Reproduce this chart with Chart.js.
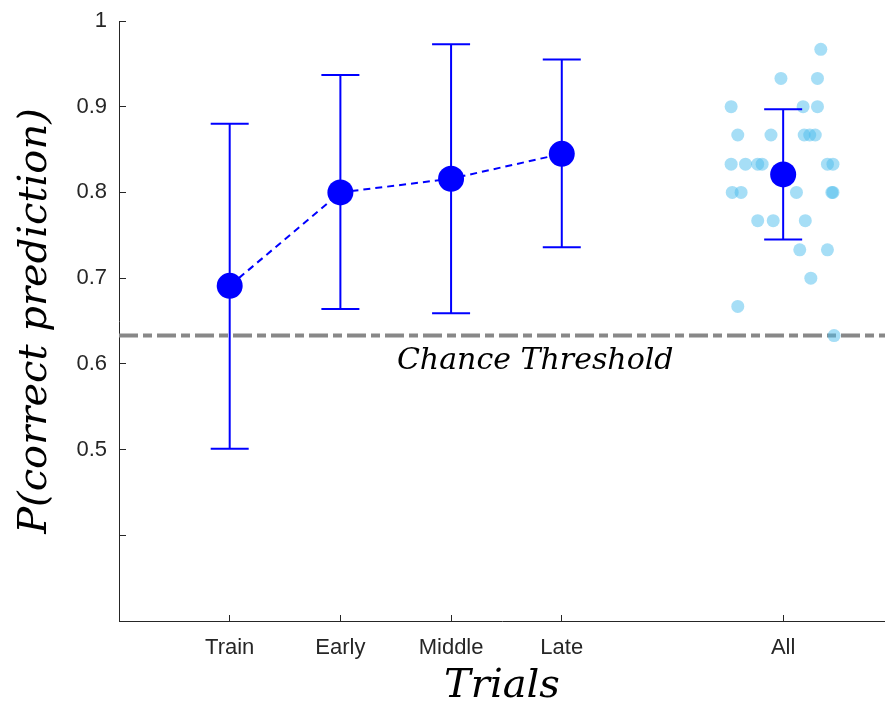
<!DOCTYPE html>
<html>
<head>
<meta charset="utf-8">
<script src="https://cdn.jsdelivr.net/npm/chart.js@4.4.1/dist/chart.umd.min.js"></script>
<style>
  html, body { margin: 0; padding: 0; background: #fff; }
</style>
</head>
<body>
<canvas id="chart" width="885" height="705"></canvas>
<script>
// categories and their positions on the x axis (gap before "All")
const categories = ["Train", "Early", "Middle", "Late", "All"];
const catX = [1, 2, 3, 4, 6];

// mean and error bar limits per category
const means = [0.691, 0.800, 0.816, 0.845, 0.821];
const lower = [0.501, 0.664, 0.659, 0.736, 0.745];
const upper = [0.880, 0.937, 0.973, 0.955, 0.897];

// individual subjects, shown jittered around "All"
const allX = [6.34, 5.98, 6.31, 5.53, 6.18, 6.31, 5.59, 5.89, 6.19, 6.24,
              6.29, 5.53, 5.66, 5.77, 5.81, 6.40, 6.45, 5.54, 5.62, 6.12,
              6.44, 6.45, 5.77, 5.91, 6.20, 6.15, 6.40, 6.25, 5.59, 6.46];
const allY = [0.967, 0.933, 0.933, 0.900, 0.900, 0.900, 0.867, 0.867, 0.867, 0.867,
              0.867, 0.833, 0.833, 0.833, 0.833, 0.833, 0.833, 0.800, 0.800, 0.800,
              0.800, 0.800, 0.767, 0.767, 0.767, 0.733, 0.733, 0.700, 0.667, 0.633];

const chance = 0.633;
const xRange = [0, 6.92];
const yTicks = [0.3, 0.4, 0.5, 0.6, 0.7, 0.8, 0.9, 1.0];
const yTickLabels = ["", "", "0.5", "0.6", "0.7", "0.8", "0.9", "1"];

const BLUE = "#0000ff";
const AXIS = "#262626";

Chart.defaults.font.family = '"Liberation Sans", Arial, sans-serif';

// error bars go on top of the individual points, under the means
const errorBars = {
  id: "errorBars",
  afterDatasetDraw(chart, args) {
    if (args.index !== 1) return;
    const { ctx, scales: { x, y } } = chart;
    ctx.save();
    ctx.strokeStyle = BLUE;
    ctx.lineWidth = 2;
    catX.forEach((cx, i) => {
      const px = x.getPixelForValue(cx);
      const top = y.getPixelForValue(upper[i]);
      const bot = y.getPixelForValue(lower[i]);
      ctx.beginPath();
      ctx.moveTo(px, top); ctx.lineTo(px, bot);
      ctx.moveTo(px - 19, top); ctx.lineTo(px + 19, top);
      ctx.moveTo(px - 19, bot); ctx.lineTo(px + 19, bot);
      ctx.stroke();
    });
    ctx.restore();
  }
};

const chanceLabel = {
  id: "chanceLabel",
  afterDraw(chart) {
    const { ctx, scales: { x, y } } = chart;
    ctx.save();
    ctx.font = 'italic 30px "DejaVu Serif", serif';
    ctx.fillStyle = "#000";
    ctx.textAlign = "center";
    ctx.textBaseline = "middle";
    ctx.fillText("Chance Threshold", x.getPixelForValue(3.76), y.getPixelForValue(0.603));
    ctx.restore();
  }
};

new Chart(document.getElementById("chart"), {
  data: {
    datasets: [
      {
        type: "line",
        data: [{ x: xRange[0], y: chance }, { x: xRange[1], y: chance }],
        borderColor: "#888888",
        borderWidth: 4,
        borderDash: [19, 5, 9, 5],
        pointRadius: 0,
        order: 4
      },
      {
        type: "scatter",
        data: allX.map((v, i) => ({ x: v, y: allY[i] })),
        backgroundColor: "rgba(77,190,238,0.5)",
        borderWidth: 0,
        pointRadius: 6.5,
        order: 3
      },
      {
        type: "line",
        data: catX.slice(0, 4).map((v, i) => ({ x: v, y: means[i] })),
        borderColor: BLUE,
        borderWidth: 2,
        borderDash: [7, 5],
        pointRadius: 0,
        order: 2
      },
      {
        type: "scatter",
        data: catX.map((v, i) => ({ x: v, y: means[i] })),
        backgroundColor: BLUE,
        borderWidth: 0,
        pointRadius: 13,
        order: 1
      }
    ]
  },
  options: {
    responsive: false,
    animation: false,
    layout: { autoPadding: false, padding: { top: 21, left: 12, right: 0, bottom: -6 } },
    plugins: { legend: { display: false }, tooltip: { enabled: false } },
    scales: {
      x: {
        type: "linear",
        min: xRange[0],
        max: xRange[1],
        afterBuildTicks: (s) => { s.ticks = catX.map(v => ({ value: v })); },
        afterFit: (s) => { s.height = 90; s.paddingLeft = 0; s.paddingRight = 0; },
        ticks: {
          callback: (v, i) => categories[i],
          color: AXIS,
          font: { size: 22 },
          padding: 20,
          maxRotation: 0
        },
        grid: { drawOnChartArea: false, tickLength: -6, color: AXIS },
        border: { color: AXIS, width: 1 },
        title: {
          display: true,
          text: "Trials",
          color: "#000",
          font: { family: '"DejaVu Serif", serif', style: "italic", size: 40 },
          padding: 0
        }
      },
      y: {
        min: 0.3,
        max: 1,
        afterBuildTicks: (s) => { s.ticks = yTicks.map(v => ({ value: v })); },
        afterFit: (s) => { s.width = 107; s.paddingTop = 0; s.paddingBottom = 0; },
        ticks: {
          callback: (v, i) => yTickLabels[i],
          color: AXIS,
          font: { size: 22 },
          padding: 19
        },
        grid: { drawOnChartArea: false, tickLength: -7, color: AXIS },
        border: { color: AXIS, width: 1 },
        title: {
          display: true,
          text: "P(correct prediction)",
          color: "#000",
          font: { family: '"DejaVu Serif", serif', style: "italic", size: 40 },
          padding: 0
        }
      }
    }
  },
  plugins: [errorBars, chanceLabel]
});
</script>
</body>
</html>
